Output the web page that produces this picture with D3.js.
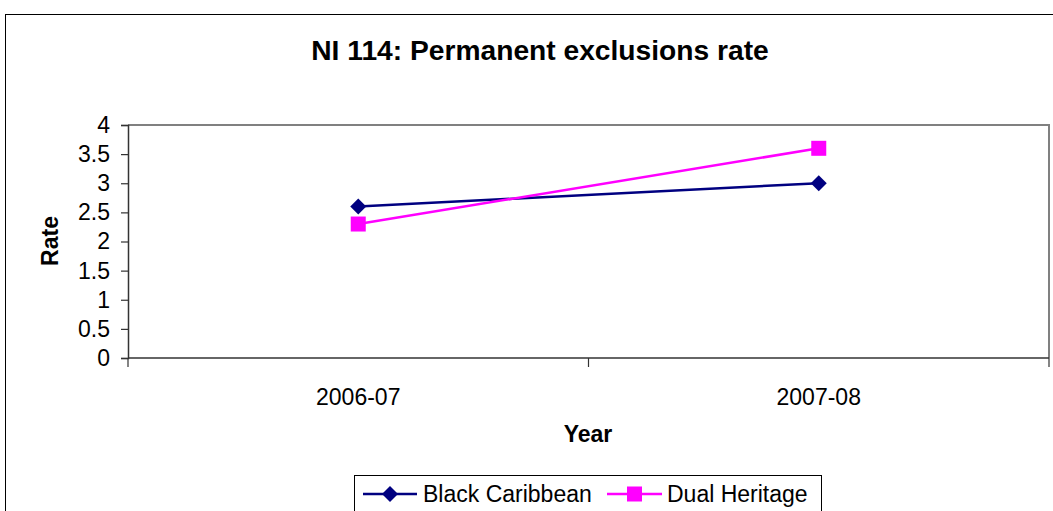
<!DOCTYPE html>
<html><head><meta charset="utf-8">
<script src="https://cdn.jsdelivr.net/npm/d3@7"></script>
<style>body{margin:0;background:#fff;} svg{display:block;font-family:Arial,"Liberation Sans",sans-serif;}</style>
</head><body>
<script>
const categories = ["2006-07", "2007-08"];
const blackCaribbean = [2.6, 3.0];
const dualHeritage = [2.3, 3.6];
const yTicks = [0, 0.5, 1, 1.5, 2, 2.5, 3, 3.5, 4];
const seriesNames = ["Black Caribbean", "Dual Heritage"];
const title = "NI 114: Permanent exclusions rate";

const W = 1053, H = 511;
const svg = d3.select("body").append("svg").attr("width", W).attr("height", H);

// outer chart border
svg.append("rect").attr("x", 5.5).attr("y", 14.5).attr("width", 1100).attr("height", 600)
  .attr("fill", "#fff").attr("stroke", "#000").attr("stroke-width", 1);

const L = 128, R = 1049, T = 125, B = 358;
const x = d3.scaleBand().domain(categories).range([L, R]);
const y = d3.scaleLinear().domain([0, 4]).range([B, T]);

// plot area border (gray top/right)
svg.append("path").attr("d", `M${L},${T}H${R}V${B}`).attr("fill", "none")
  .attr("stroke", "#808080").attr("stroke-width", 2);

// y axis
const yAxis = d3.axisLeft(y).tickValues(yTicks).tickSize(7).tickPadding(11).tickFormat(d3.format("~g"));
const gy = svg.append("g").attr("transform", `translate(${L},0)`).call(yAxis);
gy.select(".domain").attr("stroke", "#333").attr("stroke-width", 1.5);
gy.selectAll(".tick line").attr("stroke", "#333").attr("stroke-width", 1.2);
gy.selectAll("text").attr("font-size", 23).attr("fill", "#000").attr("font-family", "Arial,'Liberation Sans',sans-serif");

// x axis: ticks between categories
const gx = svg.append("g").attr("transform", `translate(0,${B})`);
gx.append("line").attr("x1", L).attr("x2", R).attr("stroke", "#333").attr("stroke-width", 1.5);
const bounds = [L, ...categories.slice(1).map(c => x(c)), R];
gx.selectAll("line.tk").data(bounds).enter().append("line").attr("class", "tk")
  .attr("x1", d => d).attr("x2", d => d).attr("y1", 0).attr("y2", 9)
  .attr("stroke", "#333").attr("stroke-width", 1.2);
gx.selectAll("text").data(categories).enter().append("text")
  .attr("x", d => x(d) + x.bandwidth() / 2).attr("y", 47)
  .attr("text-anchor", "middle").attr("font-size", 23).text(d => d);

// title and axis titles
svg.append("text").attr("x", 540).attr("y", 60).attr("text-anchor", "middle")
  .attr("font-size", 28.2).attr("font-weight", "bold").text(title);
svg.append("text").attr("x", 588).attr("y", 442).attr("text-anchor", "middle")
  .attr("font-size", 23).attr("font-weight", "bold").text("Year");
svg.append("text").attr("transform", "translate(58,241) rotate(-90)").attr("text-anchor", "middle")
  .attr("font-size", 23).attr("font-weight", "bold").text("Rate");

const cx = d => x(d) + x.bandwidth() / 2;
const line = d3.line().x(d => cx(d.c)).y(d => y(d.v));
const series = [
  {name: seriesNames[0], values: blackCaribbean, color: "#000080", shape: "diamond"},
  {name: seriesNames[1], values: dualHeritage, color: "#FF00FF", shape: "square"}
];
function marker(g, shape, color) {
  if (shape === "diamond") {
    g.append("path").attr("d", "M0,-8L8,0L0,8L-8,0Z").attr("fill", color);
  } else {
    g.append("rect").attr("x", -7.5).attr("y", -7.5).attr("width", 15).attr("height", 15).attr("fill", color);
  }
}
series.forEach(s => {
  const pts = categories.map((c, i) => ({c, v: s.values[i]}));
  svg.append("path").datum(pts).attr("d", line).attr("fill", "none")
    .attr("stroke", s.color).attr("stroke-width", 2.5);
  pts.forEach(p => {
    const g = svg.append("g").attr("transform", `translate(${cx(p.c)},${y(p.v)})`);
    marker(g, s.shape, s.color);
  });
});

// legend
const lg = svg.append("g");
lg.append("rect").attr("x", 354.5).attr("y", 475.5).attr("width", 467).attr("height", 60)
  .attr("fill", "#fff").attr("stroke", "#000").attr("stroke-width", 1);
const legendPos = [{x0: 363, x1: 417, tx: 423}, {x0: 607, x1: 662, tx: 667}];
series.forEach((s, i) => {
  const p = legendPos[i];
  const yy = 494;
  lg.append("line").attr("x1", p.x0).attr("x2", p.x1).attr("y1", yy).attr("y2", yy)
    .attr("stroke", s.color).attr("stroke-width", 2.5);
  const g = lg.append("g").attr("transform", `translate(${(p.x0 + p.x1) / 2},${yy})`);
  marker(g, s.shape, s.color);
  lg.append("text").attr("x", p.tx).attr("y", yy + 8).attr("font-size", 23).text(s.name);
});
</script>
</body></html>
